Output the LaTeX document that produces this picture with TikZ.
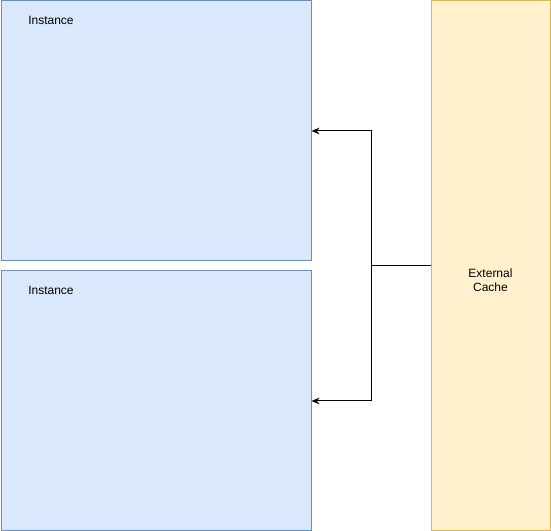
\documentclass[tikz,border=0pt]{standalone}
\usepackage{fontspec}
\setmainfont{Liberation Sans}
\usetikzlibrary{arrows.meta,positioning}
\definecolor{instfill}{HTML}{DAE8FC}
\definecolor{instline}{HTML}{6C8EBF}
\definecolor{cachefill}{HTML}{FFF2CC}
\definecolor{cacheline}{HTML}{D6B656}
\tikzset{
	instbox/.style={draw=instline, fill=instfill, line width=0.75pt, minimum width=232.5pt, minimum height=195pt, inner sep=0pt},
	cachebox/.style={draw=cacheline, fill=cachefill, line width=0.75pt, minimum width=89.25pt, minimum height=397.5pt, inner sep=0pt},
	title/.style={font=\fontsize{9}{10.5}\selectfont, inner sep=0pt},
	link/.style={line width=0.75pt, -{Stealth[length=6pt,width=5pt]}}
}
\begin{document}
\begin{tikzpicture}[x=0.75pt,y=-0.75pt]
	\useasboundingbox (0,0) rectangle (551,531);
	% Hai instance
	\node[instbox, anchor=north west] (inst1) at (0.5,0.5) {};
	\node[instbox, anchor=north west] (inst2) at (0.5,270.5) {};
	\node[title, anchor=west] (lbl1) at (28,20) {Instance};
	\node[title, anchor=west] (lbl2) at (28,290) {Instance};
	% Cache ben ngoai
	\node[cachebox, anchor=north west] (cache) at (431,0.5) {};
	\node[title, align=center] (cachelbl) at (490.5,280) {External\\Cache};
	% Duong noi
	\coordinate (split) at ([xshift=-45pt]cache.west);
	\draw[line width=0.75pt] (cache.west) -- (split);
	\draw[link] (split) |- (inst1.east);
	\draw[link] (split) |- (inst2.east);
\end{tikzpicture}
\end{document}
